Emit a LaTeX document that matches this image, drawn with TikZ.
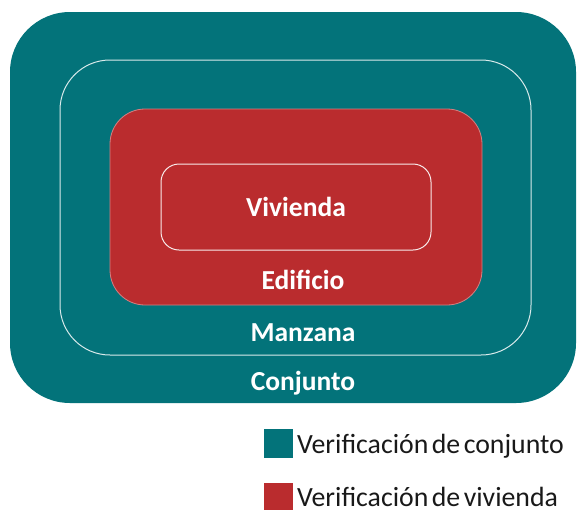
\documentclass[tikz,border=0pt]{standalone}
\usepackage{fontspec}
\setmainfont{Carlito}[WordSpace=0.55]
\definecolor{verde}{RGB}{3,115,122}
\definecolor{rojo}{RGB}{186,44,46}
\definecolor{texto}{RGB}{25,25,25}
\tikzset{
 caja/.style={rectangle, inner sep=0pt, outer sep=0pt},
 etiqueta/.style={text=white, font=\fontsize{27.5}{32}\selectfont\bfseries, anchor=base},
 leyenda/.style={text=texto, font=\fontsize{27.8}{32}\selectfont, anchor=base west, inner sep=0pt},
}
\begin{document}
\begin{tikzpicture}[x=1pt,y=-1pt]
 \useasboundingbox (0,0) rectangle (577,509); %marco
 \node[caja, fill=verde, minimum width=566pt, minimum height=391pt, rounded corners=60pt] (conjunto) at (293,207.5) {}; %conjunto
 \node[caja, fill=verde, draw=white!85!verde, line width=1pt, minimum width=471pt, minimum height=295pt, rounded corners=50pt] (manzana) at (295.5,207.5) {}; %manzana
 \node[caja, fill=rojo, draw=rojo!60!white, line width=0.8pt, minimum width=372pt, minimum height=196pt, rounded corners=35pt] (edificio) at (296,207) {}; %edificio
 \node[caja, fill=rojo, draw=white!90!rojo, line width=1pt, minimum width=270pt, minimum height=86pt, rounded corners=18pt, text=white, font=\fontsize{27.5}{32}\selectfont\bfseries] (vivienda) at (296,207) {Vivienda}; %vivienda
 \node[etiqueta] (tedificio) at (303,289) {Edificio};
 \node[etiqueta] (tmanzana) at (303,341.5) {Manzana};
 \node[etiqueta] (tconjunto) at (303,390.5) {Conjunto};
 \node[caja, fill=verde, minimum size=29pt] (cverde) at (278.5,443.5) {}; %leyenda 1
 \node[leyenda] (lverde) at (297,453) {Verificación de conjunto};
 \node[caja, fill=rojo, minimum size=29pt] (crojo) at (278.5,497.5) {}; %leyenda 2
 \node[leyenda] (lrojo) at (297,506) {Verificación de vivienda};
\end{tikzpicture}
\end{document}
